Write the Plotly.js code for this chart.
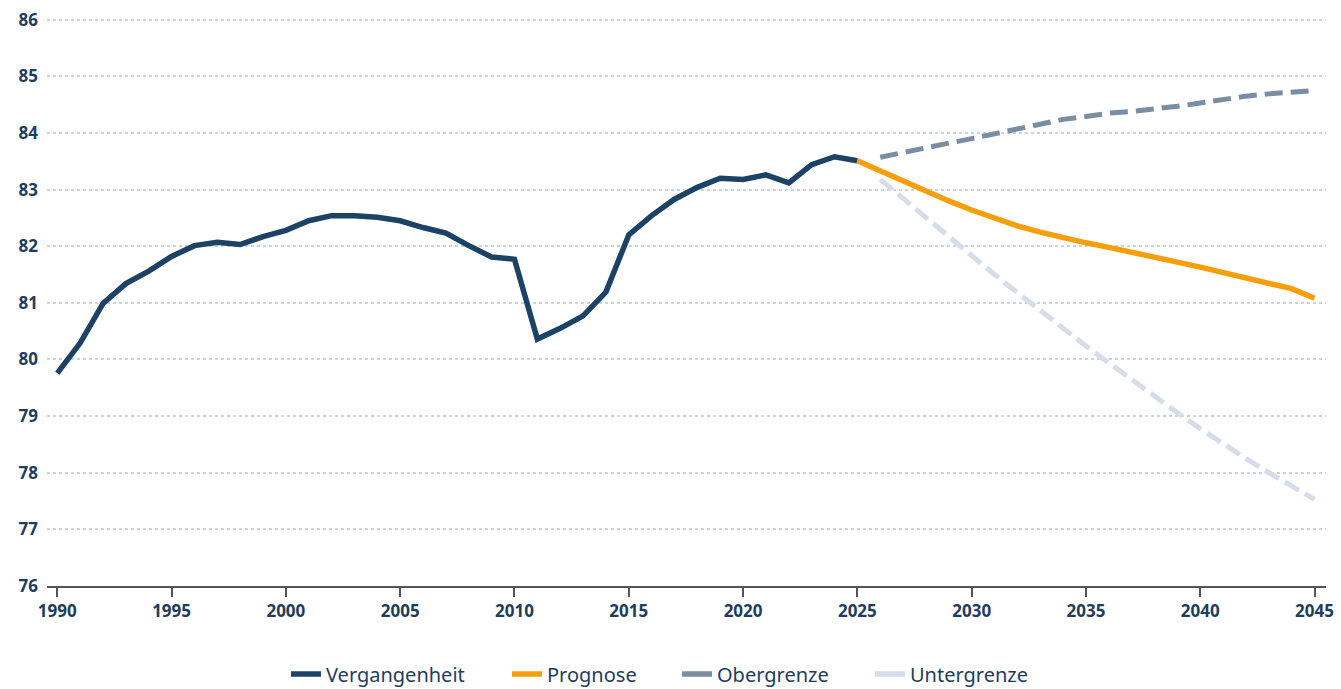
<!DOCTYPE html>
<html>
<head>
<meta charset="utf-8">
<script src="https://cdn.plot.ly/plotly-3.0.1.min.js"></script>
<style>
  html, body { margin: 0; padding: 0; background: #ffffff; }
  #chart { width: 1341px; height: 689px; }
</style>
</head>
<body>
<div id="chart"></div>
<script>
// ---- Data ----
const pastYears = [1990,1991,1992,1993,1994,1995,1996,1997,1998,1999,2000,2001,2002,2003,2004,2005,2006,2007,2008,2009,2010,2011,2012,2013,2014,2015,2016,2017,2018,2019,2020,2021,2022,2023,2024,2025];
const pastValues = [79.76,80.29,80.99,81.34,81.56,81.82,82.01,82.07,82.03,82.17,82.28,82.45,82.54,82.54,82.51,82.45,82.33,82.23,82.01,81.81,81.77,80.36,80.55,80.77,81.19,82.20,82.54,82.83,83.04,83.20,83.18,83.26,83.12,83.44,83.58,83.51];

const forecastYears = [2025,2026,2027,2028,2029,2030,2031,2032,2033,2034,2035,2036,2037,2038,2039,2040,2041,2042,2043,2044,2045];
const forecastValues = [83.51,83.33,83.15,82.97,82.80,82.64,82.49,82.36,82.25,82.15,82.06,81.98,81.90,81.81,81.72,81.63,81.53,81.44,81.35,81.25,81.08];

const boundYears = [2026,2027,2028,2029,2030,2031,2032,2033,2034,2035,2036,2037,2038,2039,2040,2041,2042,2043,2044,2045];
const upperValues = [83.57,83.66,83.74,83.82,83.90,83.98,84.07,84.16,84.24,84.29,84.35,84.38,84.42,84.47,84.53,84.60,84.65,84.69,84.72,84.75];
const lowerValues = [83.18,82.84,82.50,82.16,81.83,81.50,81.18,80.86,80.55,80.24,79.94,79.64,79.35,79.06,78.78,78.51,78.25,78.00,77.76,77.53];

const seriesNames = ["Vergangenheit", "Prognose", "Obergrenze", "Untergrenze"];
const xTicks = [1990,1995,2000,2005,2010,2015,2020,2025,2030,2035,2040,2045];
const yTicks = [76,77,78,79,80,81,82,83,84,85,86];

// ---- Styling ----
const navy = "#1c4266";
const orange = "#f59f0c";
const upperColor = "#7a8ea3";
const lowerColor = "#d5dde8";
const textColor = "#1f3d5c";
const fontFamily = "'Noto Sans', 'Open Sans', sans-serif";
const W = 1341, H = 689;

const traces = [
  {
    x: boundYears, y: lowerValues, name: seriesNames[3], type: "scatter", mode: "lines",
    line: { color: lowerColor, width: 5, dash: "16px,7px" }, showlegend: false, hoverinfo: "x+y"
  },
  {
    x: boundYears, y: upperValues, name: seriesNames[2], type: "scatter", mode: "lines",
    line: { color: upperColor, width: 5, dash: "18px,8px" }, showlegend: false, hoverinfo: "x+y"
  },
  {
    x: pastYears, y: pastValues, name: seriesNames[0], type: "scatter", mode: "lines",
    line: { color: navy, width: 5.5 }, legend: "legend", hoverinfo: "x+y"
  },
  {
    x: forecastYears, y: forecastValues, name: seriesNames[1], type: "scatter", mode: "lines",
    line: { color: orange, width: 5.5 }, legend: "legend2", hoverinfo: "x+y"
  },
  // legend-only entries (solid key swatches, as in the reference legend)
  {
    x: [null], y: [null], name: seriesNames[2], type: "scatter", mode: "lines",
    line: { color: upperColor, width: 5.5 }, legend: "legend3", hoverinfo: "skip"
  },
  {
    x: [null], y: [null], name: seriesNames[3], type: "scatter", mode: "lines",
    line: { color: lowerColor, width: 5.5 }, legend: "legend4", hoverinfo: "skip"
  }
];

function legendAt(px) {
  return {
    xref: "container", yref: "container",
    x: px / W, xanchor: "left", y: 15 / H, yanchor: "middle",
    font: { family: fontFamily, size: 20, color: textColor },
    itemwidth: 30, bgcolor: "rgba(0,0,0,0)"
  };
}

const layout = {
  width: W, height: H,
  margin: { l: 47, r: 15, t: 18, b: 103, autoexpand: false },
  paper_bgcolor: "#ffffff", plot_bgcolor: "#ffffff",
  font: { family: fontFamily, color: textColor, size: 18 },
  showlegend: true,
  legend: legendAt(286),
  legend2: legendAt(507),
  legend3: legendAt(677),
  legend4: legendAt(870),
  xaxis: {
    range: [1989.55, 2045.5],
    tickvals: xTicks, ticktext: xTicks.map(String),
    showgrid: false, zeroline: false,
    showline: true, linecolor: "#555555", linewidth: 2,
    ticks: "outside", ticklen: 9, tickwidth: 1.5, tickcolor: "#555555",
    tickfont: { family: fontFamily, size: 17, color: textColor, weight: "bold" },
    fixedrange: true, automargin: false
  },
  yaxis: {
    range: [76, 86.03],
    tickvals: yTicks, ticktext: yTicks.map(String),
    showgrid: true, gridcolor: "#c8d4e2", gridwidth: 1.5, griddash: "dot",
    zeroline: false, showline: false, ticks: "",
    ticklabelstandoff: 8,
    tickfont: { family: fontFamily, size: 17, color: textColor, weight: "bold" },
    fixedrange: true, automargin: false
  },
  hovermode: "closest"
};

Plotly.newPlot("chart", traces, layout, { displayModeBar: false, responsive: false });
</script>
</body>
</html>
